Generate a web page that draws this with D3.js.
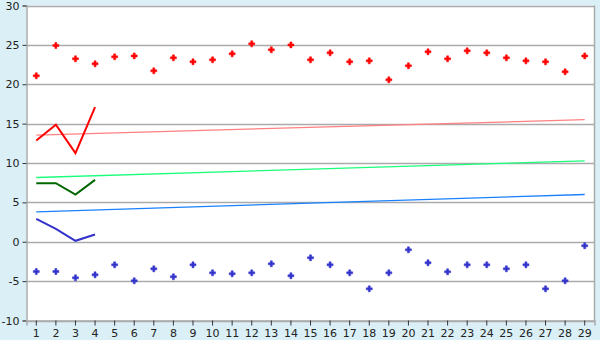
<!DOCTYPE html>
<html><head><meta charset="utf-8">
<script src="https://cdn.jsdelivr.net/npm/d3@7"></script>
<style>
html,body{margin:0;padding:0;background:#daeff6;}
svg{display:block;}
</style></head>
<body><svg id="c" width="600" height="340"></svg>
<script>
const categories = d3.range(1, 30).map(String);
const redPoints = [21.07,24.92,23.23,22.59,23.48,23.6,21.7,23.35,22.85,23.1,23.86,25.13,24.37,25.0,23.1,23.99,22.85,22.97,20.56,22.34,24.12,23.23,24.24,23.99,23.35,22.97,22.85,21.58,23.6];
const bluePoints = [-3.78,-3.78,-4.58,-4.2,-2.93,-4.96,-3.44,-4.45,-2.93,-3.95,-4.07,-3.95,-2.8,-4.32,-2.04,-2.93,-3.95,-5.98,-3.95,-1.03,-2.67,-3.82,-2.93,-2.93,-3.44,-2.93,-5.98,-4.96,-0.51];
const redLine = [12.86,14.85,11.25,17.1];
const greenLine = [7.44,7.44,6.0,7.86];
const blueLine = [2.91,1.64,0.12,0.92];
const pinkTrend = [13.55,15.5];
const greenTrend = [8.16,10.27];
const blueTrend = [3.8,6.0];
const yTicks = [-10,-5,0,5,10,15,20,25,30];

const svg = d3.select("#c");
const L = 26.5, R = 594.5, T = 5.5, B = 320.5;
const x = d3.scaleBand().domain(categories).range([L, R]);
const xc = c => x(c) + x.bandwidth() / 2;
const y = d3.scaleLinear().domain([-10, 30]).range([B, T]);

svg.append("rect").attr("x", L).attr("y", T).attr("width", R - L).attr("height", B - T).attr("fill", "#fff");

// gridlines
svg.append("g").selectAll("line").data(yTicks).join("line")
  .attr("x1", L).attr("x2", R)
  .attr("y1", d => Math.round(y(d)) + 0.5).attr("y2", d => Math.round(y(d)) + 0.5)
  .attr("stroke", "#aaaaaa").attr("stroke-width", 1.5);
svg.append("line").attr("x1", R).attr("x2", R).attr("y1", T).attr("y2", B).attr("stroke", "#aaaaaa").attr("stroke-width", 1.5);

// axes
const yAxis = d3.axisLeft(y).tickValues(yTicks).tickSize(4).tickPadding(3).tickFormat(d3.format("d"));
const gy = svg.append("g").attr("transform", `translate(${L},0)`).call(yAxis);
const xAxis = d3.axisBottom(x).tickSize(5).tickPadding(4);
const gx = svg.append("g").attr("transform", `translate(0,${B})`).call(xAxis);
[gy, gx].forEach(g => {
  g.select(".domain").attr("stroke", "#aaaaaa").attr("stroke-width", 1.5);
  g.selectAll(".tick line").attr("stroke", "#333");
  g.selectAll("text").attr("font-family", "Verdana, 'DejaVu Sans', sans-serif").attr("font-size", 11).attr("fill", "#222");
});
gy.selectAll(".tick text").text(d => String(d));

// trend lines
const trendLine = d3.line().x((d, i) => i === 0 ? xc(categories[0]) : xc(categories[categories.length - 1])).y(d => y(d));
[[pinkTrend, "#ff8080"], [greenTrend, "#1aff7a"], [blueTrend, "#1a80ff"]].forEach(([data, col]) => {
  svg.append("path").datum(data).attr("d", trendLine).attr("fill", "none").attr("stroke", col).attr("stroke-width", 1.3);
});

// series lines
const line = d3.line().x((d, i) => xc(categories[i])).y(d => y(d));
[[redLine, "#ff0000"], [greenLine, "#006600"], [blueLine, "#3333cc"]].forEach(([data, col]) => {
  svg.append("path").datum(data).attr("d", line).attr("fill", "none").attr("stroke", col).attr("stroke-width", 2);
});

// points
const sym = d3.symbol().type(d3.symbolCross).size(20);
[[redPoints, "#ff0000"], [bluePoints, "#3333cc"]].forEach(([data, col]) => {
  svg.append("g").selectAll("path").data(data).join("path")
    .attr("d", sym)
    .attr("transform", (d, i) => `translate(${xc(categories[i])},${y(d)})`)
    .attr("fill", col).attr("stroke", col).attr("stroke-width", 0.5);
});
</script>
</body></html>
